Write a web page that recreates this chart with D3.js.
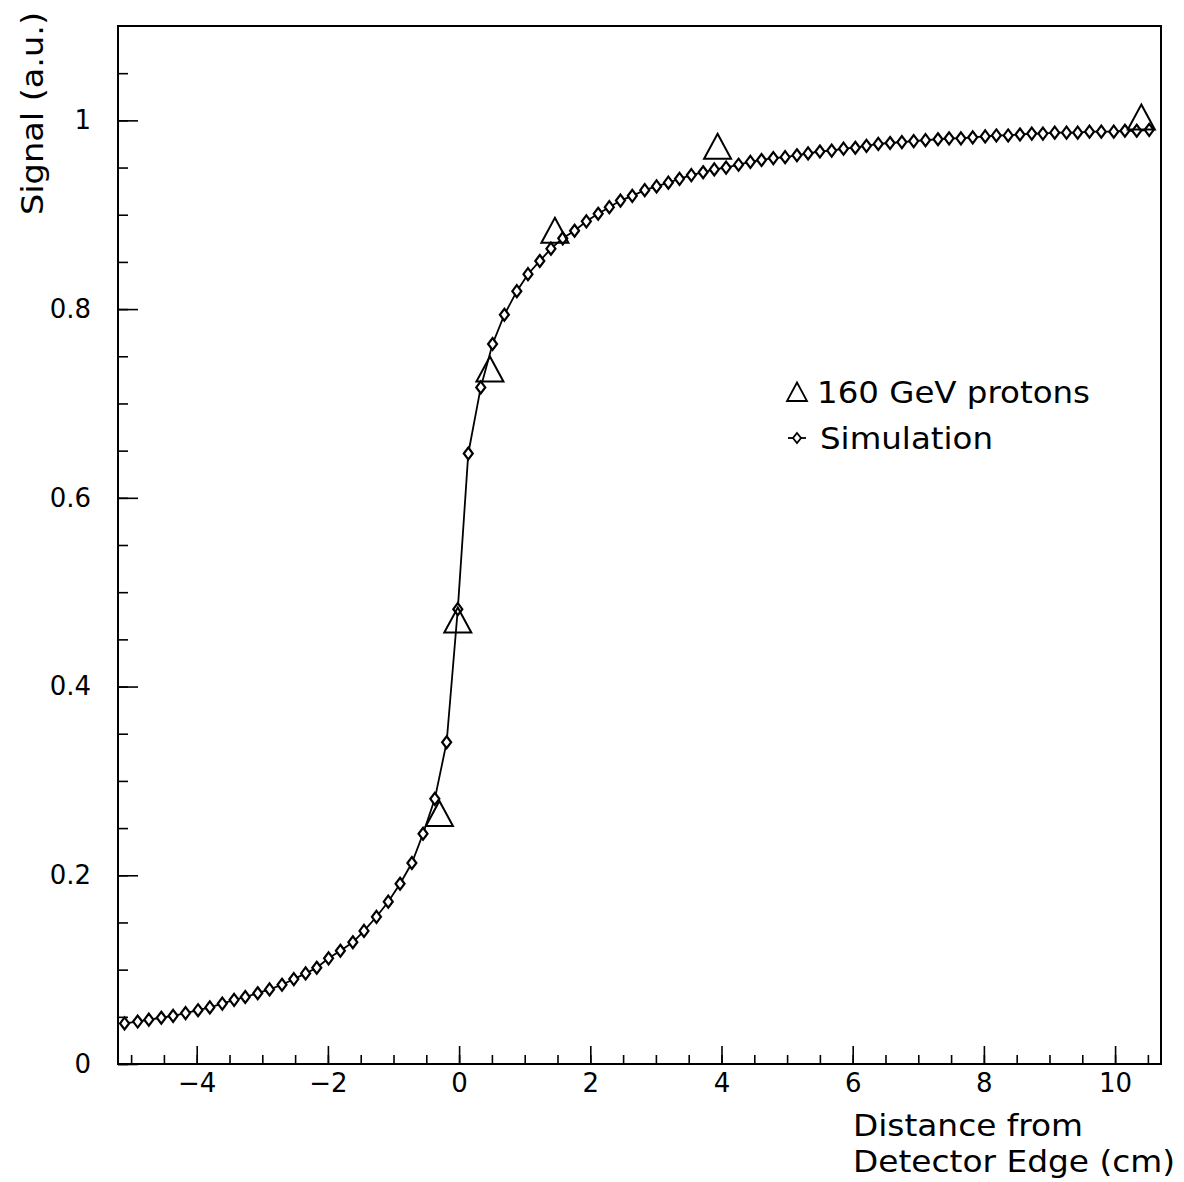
<!DOCTYPE html>
<html>
<head>
<meta charset="utf-8">
<script src="https://cdn.jsdelivr.net/npm/d3@7"></script>
<style>
  body { margin: 0; background: #fff; }
  text { font-family: "DejaVu Sans", sans-serif; fill: #000; }
</style>
</head>
<body>
<div id="chart"></div>
<script>
// simulated signal vs distance from detector edge
var simX = [-5.10, -4.90, -4.73, -4.54, -4.36, -4.17, -3.98, -3.80, -3.61, -3.43, -3.26, -3.07, -2.89, -2.70, -2.52, -2.34, -2.17, -1.99, -1.81, -1.62, -1.45, -1.26, -1.08, -0.90, -0.72, -0.55, -0.37, -0.19, -0.02,
  0.14, 0.33, 0.51, 0.69, 0.88, 1.05, 1.23, 1.40, 1.58, 1.76, 1.94, 2.12,
  2.29, 2.46, 2.64, 2.83, 3.01, 3.19, 3.36, 3.54, 3.72, 3.89, 4.07, 4.26, 4.44, 4.61, 4.79, 4.97, 5.15, 5.32, 5.50, 5.68, 5.86, 6.04, 6.21, 6.39,
  6.57, 6.75, 6.93, 7.11, 7.30, 7.47, 7.65, 7.83, 8.02, 8.19, 8.37, 8.55, 8.73, 8.90, 9.08, 9.26, 9.43, 9.61, 9.79, 9.98, 10.15, 10.33, 10.52];
var simY = [0.043, 0.045, 0.047, 0.049, 0.051, 0.054, 0.057, 0.060, 0.064, 0.068, 0.071, 0.075, 0.079, 0.084, 0.090, 0.096, 0.102, 0.112, 0.120, 0.129, 0.141, 0.156, 0.172, 0.191, 0.213, 0.244, 0.281, 0.341, 0.482,
  0.647, 0.717, 0.763, 0.794, 0.819, 0.837, 0.851, 0.864, 0.875, 0.883, 0.893, 0.901,
  0.908, 0.915, 0.920, 0.926, 0.930, 0.934, 0.938, 0.942, 0.945, 0.948, 0.950, 0.953, 0.956, 0.958, 0.960, 0.961, 0.963, 0.965, 0.967, 0.968, 0.970, 0.971, 0.973, 0.975,
  0.976, 0.977, 0.978, 0.979, 0.980, 0.981, 0.981, 0.982, 0.983, 0.984, 0.984, 0.985, 0.986, 0.986, 0.987, 0.987, 0.987, 0.988, 0.988, 0.988, 0.989, 0.989, 0.990];

// 160 GeV proton measurements
var protonX = [-0.30, -0.02, 0.47, 1.46, 3.94, 10.40];
var protonY = [0.265, 0.470, 0.736, 0.883, 0.972, 1.003];

var xMajorTicks = [-4, -2, 0, 2, 4, 6, 8, 10];
var yMajorTicks = [0, 0.2, 0.4, 0.6, 0.8, 1];
var legendLabels = ["160 GeV protons", "Simulation"];

var width = 1184, height = 1182;
var plotL = 118, plotR = 1161, plotT = 26, plotB = 1064;

var svg = d3.select("#chart").append("svg")
  .attr("width", width)
  .attr("height", height);

var x = d3.scaleLinear().domain([-5.2, 10.7]).range([plotL, plotR]);
var y = d3.scaleLinear().domain([0, 1.1]).range([plotB, plotT]);

var fmt = d3.format("~g");

// minor ticks first (no labels)
var xMinor = d3.axisBottom(x).tickValues(d3.range(-5, 10.51, 0.5)).tickSize(-9).tickFormat("");
var yMinor = d3.axisLeft(y).tickValues(d3.range(0, 1.051, 0.05)).tickSize(-10).tickFormat("");

svg.append("g").attr("transform", "translate(0," + plotB + ")").call(xMinor);
svg.append("g").attr("transform", "translate(" + plotL + ",0)").call(yMinor);

var xAxis = d3.axisBottom(x).tickValues(xMajorTicks).tickSize(-18).tickPadding(10).tickFormat(fmt);
var yAxis = d3.axisLeft(y).tickValues(yMajorTicks).tickSize(-20).tickPadding(27).tickFormat(fmt);

svg.append("g").attr("transform", "translate(0," + plotB + ")").call(xAxis);
svg.append("g").attr("transform", "translate(" + plotL + ",0)").call(yAxis);

svg.selectAll(".domain").remove();
svg.selectAll(".tick line").attr("stroke", "#000").attr("stroke-width", 1.6);
svg.selectAll(".tick text").style("font-family", "'DejaVu Sans', sans-serif").style("font-size", "26px").attr("fill", "#000");

// frame
svg.append("rect")
  .attr("x", plotL).attr("y", plotT)
  .attr("width", plotR - plotL).attr("height", plotB - plotT)
  .attr("fill", "none").attr("stroke", "#000").attr("stroke-width", 2);

// simulation line + diamonds
var simData = simX.map(function(d, i){ return {x: d, y: simY[i]}; });

var line = d3.line()
  .x(function(d){ return x(d.x); })
  .y(function(d){ return y(d.y); });

svg.append("path")
  .datum(simData)
  .attr("d", line)
  .attr("fill", "none")
  .attr("stroke", "#000")
  .attr("stroke-width", 1.8);

var diamond = "M0,-6L4.5,0L0,6L-4.5,0Z";

svg.selectAll(".sim")
  .data(simData)
  .enter()
  .append("path")
  .attr("class", "sim")
  .attr("d", diamond)
  .attr("transform", function(d){ return "translate(" + x(d.x) + "," + y(d.y) + ")"; })
  .attr("fill", "#fff")
  .attr("stroke", "#000")
  .attr("stroke-width", 2.2);

// proton triangles
var tri = "M0,-13L13.5,12L-13.5,12Z";
var protonData = protonX.map(function(d, i){ return {x: d, y: protonY[i]}; });

svg.selectAll(".proton")
  .data(protonData)
  .enter()
  .append("path")
  .attr("class", "proton")
  .attr("d", tri)
  .attr("transform", function(d){ return "translate(" + x(d.x) + "," + y(d.y) + ")"; })
  .attr("fill", "none")
  .attr("stroke", "#000")
  .attr("stroke-width", 2);

// legend
var lg = svg.append("g");
lg.append("path")
  .attr("d", "M0,-9.5L10,9L-10,9Z")
  .attr("transform", "translate(797,392)")
  .attr("fill", "none").attr("stroke", "#000").attr("stroke-width", 1.8);
lg.append("text")
  .attr("x", 817).attr("y", 403)
  .attr("textLength", 273).attr("lengthAdjust", "spacingAndGlyphs")
  .style("font-size", "30px")
  .text(legendLabels[0]);

lg.append("line")
  .attr("x1", 788).attr("x2", 806).attr("y1", 438).attr("y2", 438)
  .attr("stroke", "#000").attr("stroke-width", 1.8);
lg.append("path")
  .attr("d", "M0,-5L4,0L0,5L-4,0Z")
  .attr("transform", "translate(797,438)")
  .attr("fill", "#fff").attr("stroke", "#000").attr("stroke-width", 1.8);
lg.append("text")
  .attr("x", 820).attr("y", 449)
  .attr("textLength", 173).attr("lengthAdjust", "spacingAndGlyphs")
  .style("font-size", "30px")
  .text(legendLabels[1]);

// axis titles
svg.append("text")
  .attr("x", 853).attr("y", 1136)
  .attr("textLength", 230).attr("lengthAdjust", "spacingAndGlyphs")
  .style("font-size", "31px")
  .text("Distance from");
svg.append("text")
  .attr("x", 853).attr("y", 1172)
  .attr("textLength", 322).attr("lengthAdjust", "spacingAndGlyphs")
  .style("font-size", "31px")
  .text("Detector Edge (cm)");

svg.append("text")
  .attr("transform", "translate(43,12) rotate(-90)")
  .attr("text-anchor", "end")
  .attr("textLength", 203).attr("lengthAdjust", "spacingAndGlyphs")
  .style("font-size", "31px")
  .text("Signal (a.u.)");
</script>
</body>
</html>
